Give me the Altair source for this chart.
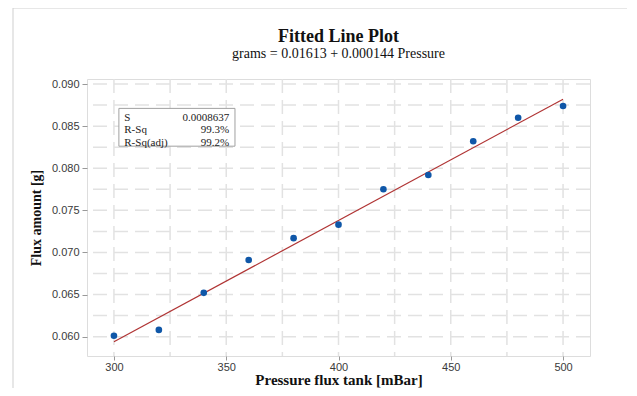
import altair as alt
import pandas as pd

# ---- data ----
pressure = [300, 320, 340, 360, 380, 400, 420, 440, 460, 480, 500]
grams = [0.0601, 0.0608, 0.0652, 0.0691, 0.0717, 0.0733, 0.0775, 0.0792, 0.0832, 0.0860, 0.0874]

fit_x = [300, 500]
fit_y = [0.0594, 0.0882]

x_ticks = [300, 350, 400, 450, 500]
y_ticks = [0.060, 0.065, 0.070, 0.075, 0.080, 0.085, 0.090]
x_grid = [300, 325, 350, 375, 400, 425, 450, 475, 500]
y_grid = [0.0600, 0.0625, 0.0650, 0.0675, 0.0700, 0.0725, 0.0750,
          0.0775, 0.0800, 0.0825, 0.0850, 0.0875, 0.0900]

stat_labels = ["S", "R-Sq", "R-Sq(adj)"]
stat_values = ["0.0008637", "99.3%", "99.2%"]
stat_rows_y = [0.0860, 0.0845, 0.0830]
stat_box = {"x1": 302.2, "x2": 353.9, "y1": 0.08711, "y2": 0.08262}
stat_label_x = 304.6
stat_value_x = 351.3

title_text = ["Fitted Line Plot"]
subtitle_text = ["grams = 0.01613 + 0.000144 Pressure"]

# ---- frames ----
pts = pd.DataFrame({"p": pressure, "g": grams})
fit = pd.DataFrame({"p": fit_x, "g": fit_y})
gx = pd.DataFrame({"p": x_grid})
gy = pd.DataFrame({"g": y_grid})
stats = pd.DataFrame({"lab": stat_labels, "val": stat_values, "g": stat_rows_y,
                      "lx": [stat_label_x] * 3, "vx": [stat_value_x] * 3})
box = pd.DataFrame([stat_box])

W, H = 503, 277

xs = alt.Scale(domain=[288, 512], nice=False, zero=False)
ys = alt.Scale(domain=[0.0577, 0.0906], nice=False, zero=False)

x_axis = alt.Axis(values=x_ticks, grid=False, domain=False, ticks=True, tickSize=4,
                  tickColor="#999999", labelFont="Liberation Sans", labelFontSize=11,
                  labelColor="#3a3a3a", labelPadding=1, format="d",
                  title="Pressure flux tank [mBar]", titleFont="Liberation Serif",
                  titleFontSize=15, titleFontWeight="bold", titleColor="#111111",
                  titlePadding=0)
y_axis = alt.Axis(values=y_ticks, grid=False, domain=False, ticks=True, tickSize=5,
                  tickColor="#999999", labelFont="Liberation Sans", labelFontSize=11,
                  labelColor="#3a3a3a", labelPadding=3, format=".3f",
                  title="Flux amount [g]", titleFont="Liberation Serif",
                  titleFontSize=14, titleFontWeight="bold", titleColor="#111111",
                  titlePadding=8)

X = lambda f: alt.X(f, type="quantitative", scale=xs, axis=x_axis)
Y = lambda f: alt.Y(f, type="quantitative", scale=ys, axis=y_axis)

frame = alt.Chart(pd.DataFrame({"a": [0]})).mark_rect(
    filled=False, stroke="#cfcfcf", strokeWidth=1
).encode(x=alt.value(-74), x2=alt.value(600), y=alt.value(-71), y2=alt.value(420))

grid_x = alt.Chart(gx).mark_rule(color="#e2e2e2", strokeWidth=1.5, strokeDash=[14, 7]).encode(
    x=X("p"))
grid_y = alt.Chart(gy).mark_rule(color="#e2e2e2", strokeWidth=1.5, strokeDash=[14, 7]).encode(
    y=Y("g"))

line = alt.Chart(fit).mark_line(color="#b03434", strokeWidth=1.2).encode(x=X("p"), y=Y("g"))
dots = alt.Chart(pts).mark_circle(size=44, color="#0f57a8", opacity=1).encode(x=X("p"), y=Y("g"))

box_rect = alt.Chart(box).mark_rect(fill="white", stroke="#a0a0a0", strokeWidth=1).encode(
    x=X("x1"), x2="x2", y=Y("y1"), y2="y2")
lab_text = alt.Chart(stats).mark_text(align="left", baseline="middle", font="Liberation Serif",
                                      fontSize=11, color="#222222").encode(
    x=X("lx"), y=Y("g"), text="lab")
val_text = alt.Chart(stats).mark_text(align="right", baseline="middle", font="Liberation Serif",
                                      fontSize=11, color="#222222").encode(
    x=X("vx"), y=Y("g"), text="val")

title_mark = alt.Chart(pd.DataFrame({"t": title_text})).mark_text(
    align="center", baseline="alphabetic", font="Liberation Serif", fontSize=18,
    fontWeight="bold", color="#111111"
).encode(x=alt.value(W / 2), y=alt.value(-37), text="t:N")
subtitle_mark = alt.Chart(pd.DataFrame({"t": subtitle_text})).mark_text(
    align="center", baseline="alphabetic", font="Liberation Serif", fontSize=14,
    color="#111111"
).encode(x=alt.value(W / 2), y=alt.value(-21), text="t:N")

chart = alt.layer(frame, grid_x, grid_y, line, dots, box_rect, lab_text, val_text,
                  title_mark, subtitle_mark).properties(
    width=W, height=H,
    autosize=alt.AutoSizeParams(type="none"),
    padding={"left": 79, "top": 71, "right": 37, "bottom": 32},
).configure_view(stroke="#a8a8a8", strokeWidth=1.2).configure(background="white")

chart.save("out.html", embed_options={"renderer": "svg", "actions": False})
